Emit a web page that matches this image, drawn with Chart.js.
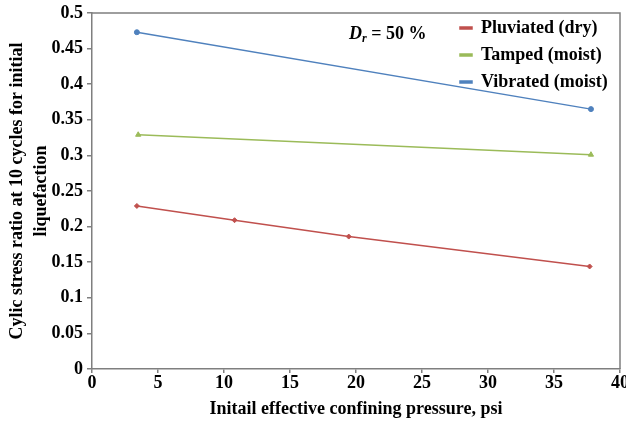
<!DOCTYPE html>
<html>
<head>
<meta charset="utf-8">
<script src="https://cdn.jsdelivr.net/npm/chart.js@4/dist/chart.umd.min.js"></script>
<style>
  html, body { margin: 0; padding: 0; background: #fff; }
  #wrap { width: 626px; height: 422px; }
</style>
</head>
<body>
<div id="wrap"><canvas id="csrChart" width="626" height="422"></canvas></div>
<script>
// data
const seriesNames = ["Pluviated (dry)", "Tamped (moist)", "Vibrated (moist)"];
const pluviatedX = [3.4, 10.8, 19.45, 37.7];
const pluviatedY = [0.229, 0.209, 0.186, 0.144];
const tampedX = [3.5, 37.8];
const tampedY = [0.329, 0.301];
const vibratedX = [3.4, 37.8];
const vibratedY = [0.473, 0.365];
const xTicks = [0, 5, 10, 15, 20, 25, 30, 35, 40];
const yTicks = [0, 0.05, 0.1, 0.15, 0.2, 0.25, 0.3, 0.35, 0.4, 0.45, 0.5];

const FONT = "'Liberation Serif', 'Times New Roman', serif";
const AXIS = '#7f7f7f';
const FS = 18;

Chart.defaults.font.family = FONT;
Chart.defaults.font.size = FS;
Chart.defaults.font.weight = 'bold';
Chart.defaults.color = '#000';

function toPoints(xs, ys) {
    return xs.map((x, i) => ({ x: x, y: ys[i] }));
}

// frame on top/right, legend placement and the D_r note
const framePlugin = {
    id: 'frame',
    afterLayout(chart) {
        const lg = chart.legend;
        if (!lg) return;
        lg.left = 451;
        lg.top = 10;
        lg.right = lg.left + lg.width;
        lg.bottom = lg.top + lg.height;
    },
    afterDraw(chart) {
        const { ctx, chartArea: a } = chart;
        ctx.save();
        ctx.strokeStyle = AXIS;
        ctx.lineWidth = 1.5;
        ctx.beginPath();
        ctx.moveTo(a.left, a.top);
        ctx.lineTo(a.right, a.top);
        ctx.lineTo(a.right, a.bottom);
        ctx.stroke();

        ctx.fillStyle = '#000';
        ctx.textBaseline = 'alphabetic';
        let x = 349, y = 39;
        ctx.font = `italic bold ${FS}px ${FONT}`;
        ctx.fillText('D', x, y);
        x += ctx.measureText('D').width;
        ctx.font = `italic bold 12px ${FONT}`;
        ctx.fillText('r', x, y + 3);
        x += ctx.measureText('r').width;
        ctx.font = `bold ${FS}px ${FONT}`;
        ctx.fillText(' = 50 %', x, y);
        ctx.restore();
    }
};

const ctx = document.getElementById('csrChart').getContext('2d');
new Chart(ctx, {
    type: 'line',
    data: {
        datasets: [
            {
                label: seriesNames[0],
                data: toPoints(pluviatedX, pluviatedY),
                borderColor: '#c0504d',
                backgroundColor: '#c0504d',
                borderWidth: 1.5,
                pointStyle: 'rectRot',
                pointRadius: 2.5,
                pointBorderWidth: 1
            },
            {
                label: seriesNames[1],
                data: toPoints(tampedX, tampedY),
                borderColor: '#9bbb59',
                backgroundColor: '#9bbb59',
                borderWidth: 1.5,
                pointStyle: 'triangle',
                pointRadius: 3,
                pointBorderWidth: 1
            },
            {
                label: seriesNames[2],
                data: toPoints(vibratedX, vibratedY),
                borderColor: '#4f81bd',
                backgroundColor: '#4f81bd',
                borderWidth: 1.5,
                pointStyle: 'circle',
                pointRadius: 2.5,
                pointBorderWidth: 1
            }
        ]
    },
    options: {
        responsive: false,
        animation: false,
        layout: { padding: { left: 0, right: 6, top: 13, bottom: 0 } },
        plugins: {
            legend: {
                position: 'chartArea',
                align: 'start',
                labels: {
                    boxWidth: 12,
                    boxHeight: 2,
                    padding: 9,
                    color: '#000',
                    font: { family: FONT, size: FS, weight: 'bold' }
                }
            },
            tooltip: { enabled: false }
        },
        scales: {
            x: {
                type: 'linear',
                min: 0,
                max: 40,
                afterBuildTicks: (scale) => { scale.ticks = xTicks.map(v => ({ value: v })); },
                afterFit: (scale) => {
                    scale.height = 53;
                    scale.paddingLeft = 0;
                    scale.paddingRight = 0;
                },
                grid: { drawOnChartArea: false, drawTicks: true, tickLength: 4, color: AXIS, lineWidth: 1.5 },
                border: { color: AXIS, width: 1.5 },
                ticks: { padding: 0, maxRotation: 0, autoSkip: false, callback: (v) => String(v) },
                title: {
                    display: true,
                    text: 'Initail effective confining pressure, psi',
                    font: { size: FS, weight: 'bold' },
                    padding: { top: 0, bottom: 2 }
                }
            },
            y: {
                min: 0,
                max: 0.5,
                afterBuildTicks: (scale) => { scale.ticks = yTicks.map(v => ({ value: v })); },
                afterFit: (scale) => {
                    scale.width = 92;
                    scale.paddingTop = 0;
                    scale.paddingBottom = 0;
                },
                grid: { drawOnChartArea: false, drawTicks: true, tickLength: 5, color: AXIS, lineWidth: 1.5 },
                border: { color: AXIS, width: 1.5 },
                ticks: { padding: 4, autoSkip: false, callback: (v) => String(+v.toFixed(2)) },
                title: {
                    display: true,
                    text: ['Cylic stress ratio at 10 cycles for initial', 'liquefaction'],
                    font: { size: FS, weight: 'bold', lineHeight: 1.3 },
                    padding: { top: 6, bottom: 0 }
                }
            }
        }
    },
    plugins: [framePlugin]
});
</script>
</body>
</html>
